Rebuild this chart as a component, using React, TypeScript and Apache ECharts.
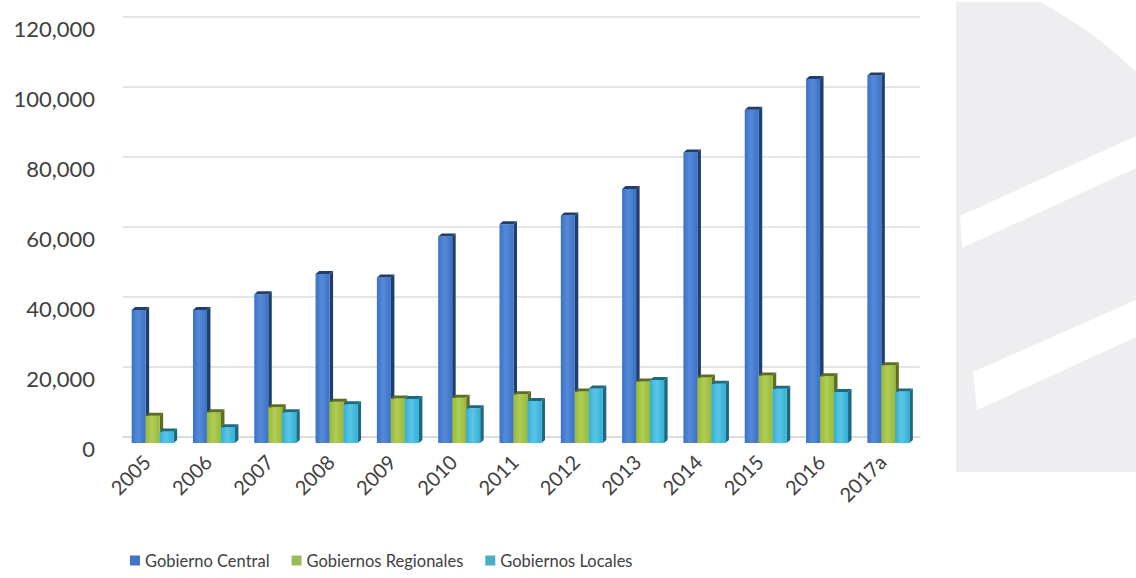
import React, { useEffect, useRef } from "react";
import * as echarts from "echarts";

// Years on the category axis ("a" = preliminary figure)
const years = ["2005", "2006", "2007", "2008", "2009", "2010", "2011", "2012", "2013", "2014", "2015", "2016", "2017a"];

// Spending by level of government
const gobiernoCentral = [38000, 38000, 42500, 48300, 47300, 59000, 62500, 65000, 72600, 83000, 95200, 104000, 105000];
const gobiernosRegionales = [7800, 8800, 10200, 11800, 12700, 12900, 13900, 14700, 17600, 18700, 19300, 19100, 22200];
const gobiernosLocales = [3300, 4500, 8800, 11100, 12600, 9900, 12000, 15600, 18000, 16900, 15500, 14600, 14700];

const seriesNames = ["Gobierno Central", "Gobiernos Regionales", "Gobiernos Locales"];

const yMin = 0;
const yMax = 120000;
const yStep = 20000;

const FONT = "Lato, 'Open Sans', sans-serif";

// front colour, side colour, highlight colour, legend swatch
const palettes = [
  { front: "#3b72c6", side: "#1f3e6e", top: "#5689d8", legend: "#4472c4" },
  { front: "#99b93a", side: "#5b6f1f", top: "#b0cd55", legend: "#9bbb59" },
  { front: "#33afd6", side: "#1a6a82", top: "#5bc6e6", legend: "#4bacc6" },
];

const BAR_W = 14;
const DEPTH_X = 3.5;
const DEPTH_Y = 3;
const FRONT_DROP = 6; // front plane of the bars sits a little below the back wall

function makeRenderer(slot: number) {
  const pal = palettes[slot];
  return (params: any, api: any) => {
    const idx = api.value(0);
    const val = api.value(1);
    const top = api.coord([idx, val]);
    const base = api.coord([idx, 0]);
    const x0 = top[0] - 22 + slot * BAR_W;
    const yT = top[1] + FRONT_DROP;
    const yB = base[1] + FRONT_DROP;
    const x1 = x0 + BAR_W;
    return {
      type: "group",
      children: [
        {
          type: "polygon",
          shape: {
            points: [
              [x1, yT],
              [x1 + DEPTH_X, yT - DEPTH_Y],
              [x1 + DEPTH_X, yB - DEPTH_Y],
              [x1, yB],
            ],
          },
          style: { fill: pal.side },
        },
        {
          type: "rect",
          shape: { x: x0, y: yT, width: BAR_W, height: yB - yT },
          style: {
            fill: new echarts.graphic.LinearGradient(0, 0, 1, 0, [
              { offset: 0, color: pal.front },
              { offset: 0.45, color: pal.top },
              { offset: 1, color: pal.front },
            ]),
          },
        },
        {
          type: "polygon",
          shape: {
            points: [
              [x0, yT],
              [x0 + DEPTH_X, yT - DEPTH_Y],
              [x1 + DEPTH_X, yT - DEPTH_Y],
              [x1, yT],
            ],
          },
          style: { fill: pal.side },
        },
      ],
    };
  };
}

const watermarkPath = "M956 2 L1040 2 A420 420 0 0 1 1136 72 L1136 472 L956 472 Z";
echarts.graphic.registerShape("logo", echarts.graphic.extendPath(watermarkPath, {}));

export default function App() {
  const ref = useRef<HTMLDivElement>(null);

  useEffect(() => {
    document.body.style.margin = "0";
    if (!ref.current) return;
    const chart = echarts.init(ref.current, null, { renderer: "svg" });
    const dataSets = [gobiernoCentral, gobiernosRegionales, gobiernosLocales];

    chart.setOption({
      animation: false,
      backgroundColor: "#ffffff",
      graphic: [
        { type: "logo", x: 0, y: 0, z: -10, style: { fill: "#eeeef0" } },
        {
          type: "polygon",
          z: -9,
          shape: { points: [[960, 216], [1136, 136], [1136, 168], [962, 248]] },
          style: { fill: "#ffffff" },
        },
        {
          type: "polygon",
          z: -9,
          shape: { points: [[973, 372], [1136, 300], [1136, 337], [977, 410]] },
          style: { fill: "#ffffff" },
        },
      ],
      grid: { left: 123, width: 797, top: 17, height: 420 },
      legend: {
        bottom: 4,
        left: 125,
        itemWidth: 10,
        itemHeight: 10,
        itemGap: 22,
        icon: "rect",
        textStyle: { fontFamily: FONT, fontSize: 16.5, color: "#404040" },
        data: seriesNames.map((n, i) => ({ name: n, itemStyle: { color: palettes[i].legend } })),
      },
      xAxis: {
        type: "category",
        data: years,
        axisLine: { show: true, lineStyle: { color: "#d9d9d9", width: 1.5 } },
        axisTick: { show: false },
        axisLabel: {
          rotate: 45,
          interval: 0,
          margin: 14,
          padding: [0, 10, 0, 0],
          fontFamily: FONT,
          fontSize: 20,
          color: "#404040",
        },
      },
      yAxis: {
        type: "value",
        min: yMin,
        max: yMax,
        interval: yStep,
        axisLine: { show: false },
        axisTick: { show: false },
        splitLine: { lineStyle: { color: "#dddddd", width: 1.5 } },
        axisLabel: {
          margin: 28,
          verticalAlign: "top",
          fontFamily: FONT,
          fontSize: 22,
          color: "#404040",
          formatter: (v: number) => v.toLocaleString("en-US"),
        },
      },
      series: dataSets.map((arr, i) => ({
        name: seriesNames[i],
        type: "custom",
        itemStyle: { color: palettes[i].legend },
        renderItem: makeRenderer(i),
        encode: { x: 0, y: 1 },
        data: arr.map((v, k) => [k, v]),
        z: 2 + i,
      })),
    });

    return () => chart.dispose();
  }, []);

  return <div ref={ref} style={{ width: 1136, height: 578 }} />;
}
